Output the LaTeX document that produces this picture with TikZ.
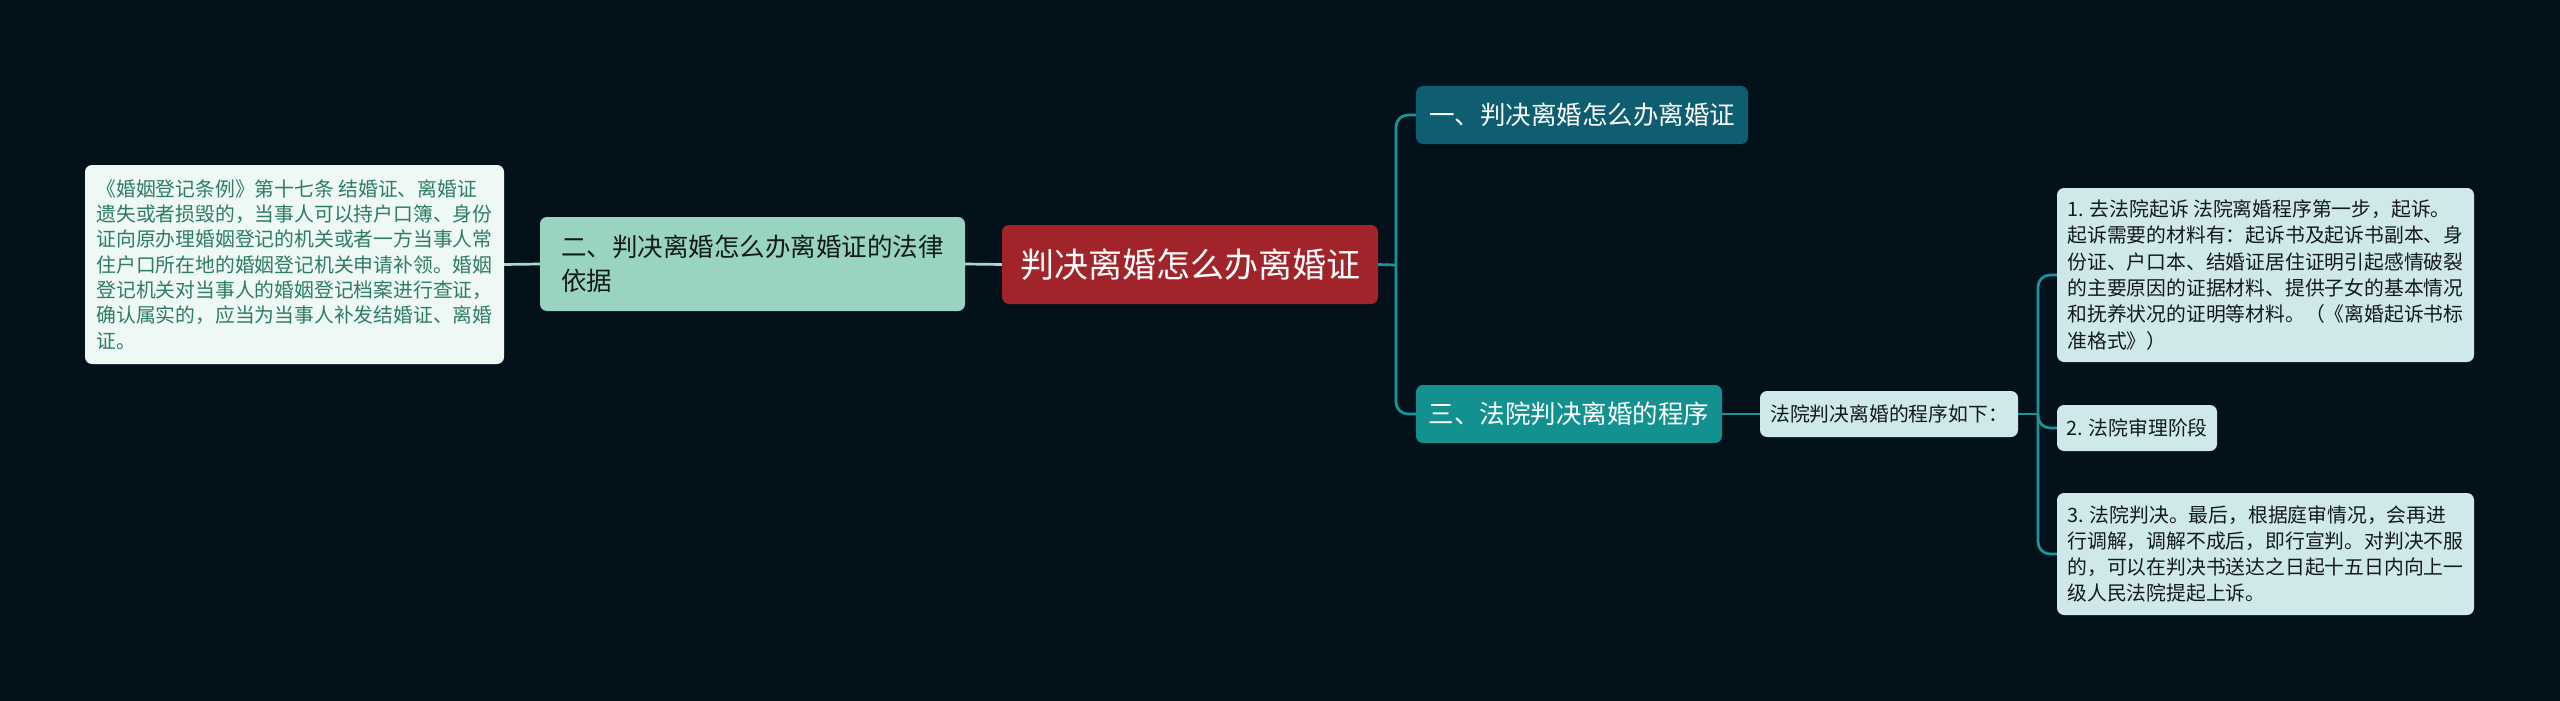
\documentclass[tikz,border=0pt]{standalone}
\usepackage{fontspec}
\setmainfont{Noto Sans CJK SC}
\definecolor{bgc}{HTML}{03121A}
\definecolor{tealline}{HTML}{1A959A}
\definecolor{mintline}{HTML}{A6DCC9}
\definecolor{rootc}{HTML}{A1242B}
\definecolor{onec}{HTML}{0E5D71}
\definecolor{threec}{HTML}{129190}
\definecolor{twoc}{HTML}{98D4BF}
\definecolor{leafLc}{HTML}{EEF8F4}
\definecolor{leafLtext}{HTML}{2E7D5E}
\definecolor{leafRc}{HTML}{CFE8EA}
\definecolor{darktext}{HTML}{141A1C}
\tikzset{
  box/.style={rounded corners=7pt, inner sep=0pt, align=left},
  conn/.style={draw=tealline, line width=2.7pt, rounded corners=12pt},
  mconn/.style={draw=mintline, line width=2.7pt},
  bigfont/.style={font=\fontsize{34pt}{40pt}\selectfont},
  midfont/.style={font=\fontsize{25.5pt}{34pt}\selectfont},
}
\begin{document}
\begin{tikzpicture}[x=1pt,y=-1pt]
\fill[bgc] (0,0) rectangle (2560,701);
\useasboundingbox (0,0) rectangle (2560,701);

\node[box, fill=rootc, text=white, bigfont, minimum width=376pt, minimum height=79pt] (root) at (1190,264.5) {判决离婚怎么办离婚证};

\node[box, fill=twoc, text=darktext, midfont, minimum width=425pt, minimum height=94pt] (two) at (752.5,264) {二、判决离婚怎么办离婚证的法律\\依据};

\node[box, fill=leafLc, text=leafLtext, font=\fontsize{19.8pt}{25.3pt}\selectfont, minimum width=419pt, minimum height=199pt] (leafL) at (294.5,264.5) {《婚姻登记条例》第十七条 结婚证、离婚证\\遗失或者损毁的，当事人可以持户口簿、身份\\证向原办理婚姻登记的机关或者一方当事人常\\住户口所在地的婚姻登记机关申请补领。婚姻\\登记机关对当事人的婚姻登记档案进行查证，\\确认属实的，应当为当事人补发结婚证、离婚\\证。};

\node[box, fill=onec, text=white, midfont, minimum width=332pt, minimum height=58pt] (one) at (1582,115) {一、判决离婚怎么办离婚证};

\node[box, fill=threec, text=white, midfont, minimum width=306pt, minimum height=58pt] (three) at (1569,414) {三、法院判决离婚的程序};

\node[box, fill=leafRc, text=darktext, font=\fontsize{19.8pt}{25pt}\selectfont, minimum width=258pt, minimum height=46pt] (prog) at (1889,414) {法院判决离婚的程序如下：};

\node[box, fill=leafRc, text=darktext, font=\fontsize{19.8pt}{26.3pt}\selectfont, minimum width=417pt, minimum height=174pt] (leaf1) at (2265.5,275) {1. 去法院起诉 法院离婚程序第一步，起诉。\\起诉需要的材料有：起诉书及起诉书副本、身\\份证、户口本、结婚证居住证明引起感情破裂\\的主要原因的证据材料、提供子女的基本情况\\和抚养状况的证明等材料。（《离婚起诉书标\\准格式》）};

\node[box, fill=leafRc, text=darktext, font=\fontsize{19.8pt}{25pt}\selectfont, minimum width=160pt, minimum height=46pt] (leaf2) at (2137,428) {2. 法院审理阶段};

\node[box, fill=leafRc, text=darktext, font=\fontsize{19.8pt}{25.8pt}\selectfont, minimum width=417pt, minimum height=122pt] (leaf3) at (2265.5,554) {3. 法院判决。最后，根据庭审情况，会再进\\行调解，调解不成后，即行宣判。对判决不服\\的，可以在判决书送达之日起十五日内向上一\\级人民法院提起上诉。};

\coordinate (j1) at (1396,265);
\coordinate (j2) at (2038,414);

\draw[mconn] (root.west) -- (two.east);
\draw[mconn] (two.west) -- (leafL.east);
\draw[conn] (root.east) -- (j1);
\draw[conn] (j1) |- (one.west);
\draw[conn] (j1) |- (three.west);
\draw[conn] (three.east) -- (prog.west);
\draw[conn] (prog.east) -- (j2);
\draw[conn] (j2) |- (leaf1.west);
\draw[conn] (j2) |- (leaf2.west);
\draw[conn] (j2) |- (leaf3.west);
\end{tikzpicture}
\end{document}
